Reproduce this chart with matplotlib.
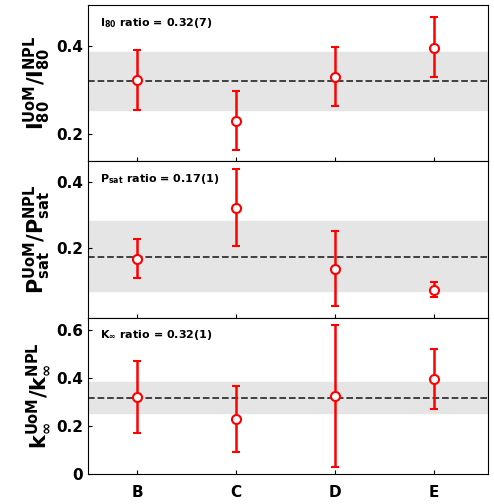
import matplotlib.pyplot as plt

labs = ["B", "C", "D", "E"]

# I80 ratio
i80 = [0.322, 0.231, 0.330, 0.396]
i80_lo = [0.255, 0.165, 0.263, 0.330]
i80_hi = [0.390, 0.298, 0.398, 0.465]
i80_mean, i80_band = 0.32, (0.254, 0.386)

# Psat ratio
psat = [0.166, 0.322, 0.135, 0.070]
psat_lo = [0.105, 0.205, 0.020, 0.048]
psat_hi = [0.225, 0.440, 0.250, 0.095]
psat_mean, psat_band = 0.172, (0.065, 0.280)

# k_inf ratio
kinf = [0.322, 0.228, 0.325, 0.396]
kinf_lo = [0.172, 0.090, 0.030, 0.272]
kinf_hi = [0.472, 0.366, 0.620, 0.522]
kinf_mean, kinf_band = 0.318, (0.252, 0.382)

panels = [
    (i80, i80_lo, i80_hi, i80_mean, i80_band, (0.139, 0.492), [0.2, 0.4],
     r"$\mathbf{I_{80}^{UoM}/I_{80}^{NPL}}$", r"$\mathbf{I_{80}}$ ratio = 0.32(7)"),
    (psat, psat_lo, psat_hi, psat_mean, psat_band, (-0.015, 0.465), [0.2, 0.4],
     r"$\mathbf{P_{sat}^{UoM}/P_{sat}^{NPL}}$", r"$\mathbf{P_{sat}}$ ratio = 0.17(1)"),
    (kinf, kinf_lo, kinf_hi, kinf_mean, kinf_band, (0.0, 0.652), [0, 0.2, 0.4, 0.6],
     r"$\mathbf{k_{\infty}^{UoM}/k_{\infty}^{NPL}}$", r"$\mathbf{K_{\infty}}$ ratio = 0.32(1)"),
]

fig = plt.figure(figsize=(4.94, 5.04), dpi=100)
x = list(range(len(labs)))
h = 0.31
for i, (v, lo, hi, m, band, yl, ticks, ylab, note) in enumerate(panels):
    ax = fig.add_axes([0.178, 0.06 + (2 - i) * h, 0.81, h])
    ax.axhspan(band[0], band[1], color="#e5e5e5", zorder=0)
    ax.axhline(m, color="#333333", ls="--", lw=1.3, zorder=1)
    yerr = [[a - b for a, b in zip(v, lo)], [b - a for a, b in zip(v, hi)]]
    ax.errorbar(x, v, yerr=yerr, fmt="o", color="red", mfc="white", mec="red",
                ms=6.5, mew=1.5, elinewidth=1.8, capsize=3, capthick=1.5, zorder=3)
    ax.set_xlim(-0.5, 3.55)
    ax.set_ylim(*yl)
    ax.set_yticks(ticks)
    ax.set_yticklabels([f"{t:g}" for t in ticks], fontsize=11, fontweight="bold")
    ax.set_ylabel(ylab, fontsize=15, labelpad=2)
    ax.text(0.03, 0.93, note, transform=ax.transAxes, fontsize=8, fontweight="bold", va="top")
    ax.tick_params(direction="in", length=3)
    ax.set_xticks(x)
    if i < 2:
        ax.set_xticklabels([])
    else:
        ax.set_xticklabels(labs, fontsize=11, fontweight="bold")
        ax.tick_params(axis="x", pad=8)

fig.savefig("out.png", dpi=100)
